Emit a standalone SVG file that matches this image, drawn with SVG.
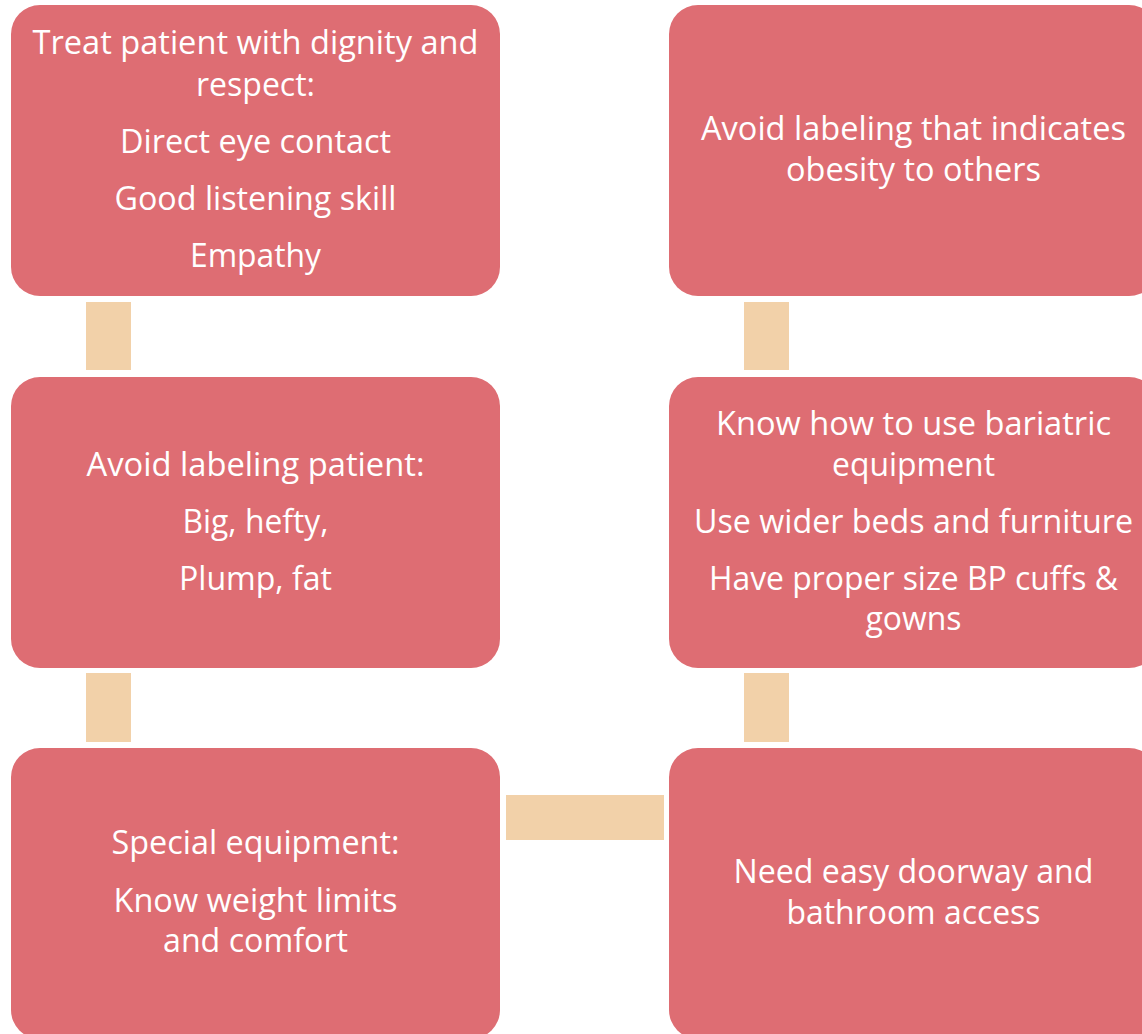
<svg xmlns="http://www.w3.org/2000/svg" width="1142" height="1034" viewBox="0 0 1142 1034">
  <style>
    .box { fill: #DE6D73; }
    .link { fill: #F2D1A9; }
    .label { font-family: "Open Sans", "Noto Sans", "Liberation Sans", sans-serif; font-size: 32px; fill: #FFFFFF; text-anchor: middle; }
  </style>
  <rect width="1142" height="1034" fill="#FFFFFF"/>

  <!-- connectors between steps -->
  <g id="connectors">
    <rect class="link" x="86" y="302" width="45" height="68"/>
    <rect class="link" x="86" y="673" width="45" height="69"/>
    <rect class="link" x="506" y="795" width="158" height="45"/>
    <rect class="link" x="744" y="673" width="45" height="69"/>
    <rect class="link" x="744" y="302" width="45" height="68"/>
  </g>

  <g id="node-dignity">
    <rect class="box" x="11" y="5" width="489" height="291" rx="29" ry="29"/>
    <text class="label" x="255.5" y="54" textLength="446" lengthAdjust="spacingAndGlyphs">Treat patient with dignity and</text>
    <text class="label" x="255.5" y="96" textLength="119" lengthAdjust="spacingAndGlyphs">respect:</text>
    <text class="label" x="255.5" y="153" textLength="271" lengthAdjust="spacingAndGlyphs">Direct eye contact</text>
    <text class="label" x="255.5" y="210" textLength="282" lengthAdjust="spacingAndGlyphs">Good listening skill</text>
    <text class="label" x="255.5" y="267" textLength="131" lengthAdjust="spacingAndGlyphs">Empathy</text>
  </g>

  <g id="node-labeling-patient">
    <rect class="box" x="11" y="377" width="489" height="291" rx="29" ry="29"/>
    <text class="label" x="255.5" y="476" textLength="338" lengthAdjust="spacingAndGlyphs">Avoid labeling patient:</text>
    <text class="label" x="255.5" y="533" textLength="146" lengthAdjust="spacingAndGlyphs">Big, hefty,</text>
    <text class="label" x="255.5" y="590" textLength="153" lengthAdjust="spacingAndGlyphs">Plump, fat</text>
  </g>

  <g id="node-special-equipment">
    <rect class="box" x="11" y="748" width="489" height="291" rx="29" ry="29"/>
    <text class="label" x="255.5" y="854" textLength="288" lengthAdjust="spacingAndGlyphs">Special equipment:</text>
    <text class="label" x="255.5" y="912" textLength="284" lengthAdjust="spacingAndGlyphs">Know weight limits</text>
    <text class="label" x="255.5" y="952" textLength="185" lengthAdjust="spacingAndGlyphs">and comfort</text>
  </g>

  <g id="node-access">
    <rect class="box" x="669" y="748" width="489" height="291" rx="29" ry="29"/>
    <text class="label" x="913.5" y="883" textLength="360" lengthAdjust="spacingAndGlyphs">Need easy doorway and</text>
    <text class="label" x="913.5" y="924" textLength="254" lengthAdjust="spacingAndGlyphs">bathroom access</text>
  </g>

  <g id="node-bariatric">
    <rect class="box" x="669" y="377" width="489" height="291" rx="29" ry="29"/>
    <text class="label" x="913.5" y="435" textLength="395" lengthAdjust="spacingAndGlyphs">Know how to use bariatric</text>
    <text class="label" x="913.5" y="476" textLength="163" lengthAdjust="spacingAndGlyphs">equipment</text>
    <text class="label" x="913.5" y="533" textLength="439" lengthAdjust="spacingAndGlyphs">Use wider beds and furniture</text>
    <text class="label" x="913.5" y="590" textLength="409" lengthAdjust="spacingAndGlyphs">Have proper size BP cuffs &amp;</text>
    <text class="label" x="913.5" y="630" textLength="96" lengthAdjust="spacingAndGlyphs">gowns</text>
  </g>

  <g id="node-labeling-others">
    <rect class="box" x="669" y="5" width="489" height="291" rx="29" ry="29"/>
    <text class="label" x="913.5" y="140" textLength="425" lengthAdjust="spacingAndGlyphs">Avoid labeling that indicates</text>
    <text class="label" x="913.5" y="181" textLength="255" lengthAdjust="spacingAndGlyphs">obesity to others</text>
  </g>
</svg>
